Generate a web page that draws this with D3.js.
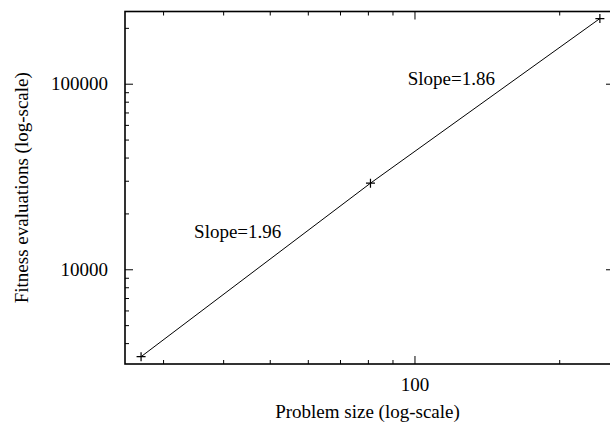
<!DOCTYPE html>
<html>
<head>
<meta charset="utf-8">
<script src="https://cdn.jsdelivr.net/npm/d3@7"></script>
<style>
  body { margin: 0; background: #fff; }
</style>
</head>
<body>
<div id="chart"></div>
<script>
// data
const problemSize = [27, 81, 243];
const evaluations = [3380, 29100, 224500];
const xTickLabels = [100];
const yTickLabels = [10000, 100000];
const slopeLabels = ["Slope=1.96", "Slope=1.86"];
const slopeLabelX = [34.8, 96.8];
const slopeLabelY = [14700, 98000];

const W = 610, H = 423;
const plot = { left: 125, right: 614, top: 11.5, bottom: 364 };
const serif = "'Liberation Serif'";
const fontSize = "19px";

const svg = d3.select("#chart").append("svg")
  .attr("width", W)
  .attr("height", H)
  .style("font-family", serif);

// scales (log-log)
const x = d3.scaleLog().domain([25, 260]).range([plot.left, plot.right]);
const y = d3.scaleLog().domain([3087, 245000]).range([plot.bottom, plot.top]);

// minor tick values
const xMinor = d3.range(30, 100, 10).concat([200]);
const yMinor = d3.range(4000, 10000, 1000).concat(d3.range(20000, 100000, 10000), [200000]);

function clean(g) {
  g.select(".domain").remove();
  g.attr("font-family", null).attr("font-size", null);
  g.selectAll("text").style("font-family", serif).style("font-size", fontSize).attr("fill", "#000");
}

// bottom + top ticks (inward)
svg.append("g").attr("transform", `translate(0,${plot.bottom})`)
  .call(d3.axisBottom(x).tickValues(xMinor).tickSize(-4).tickFormat(""))
  .call(clean);
svg.append("g").attr("transform", `translate(0,${plot.top})`)
  .call(d3.axisTop(x).tickValues(xMinor).tickSize(-4).tickFormat(""))
  .call(clean);

svg.append("g").attr("transform", `translate(0,${plot.bottom})`)
  .call(d3.axisBottom(x).tickValues(xTickLabels).tickSize(-8).tickPadding(14).tickFormat(d3.format("d")))
  .call(clean);
svg.append("g").attr("transform", `translate(0,${plot.top})`)
  .call(d3.axisTop(x).tickValues(xTickLabels).tickSize(-8).tickFormat(""))
  .call(clean);

// left + right ticks (inward)
svg.append("g").attr("transform", `translate(${plot.left},0)`)
  .call(d3.axisLeft(y).tickValues(yMinor).tickSize(-4).tickFormat(""))
  .call(clean);
svg.append("g").attr("transform", `translate(${plot.right},0)`)
  .call(d3.axisRight(y).tickValues(yMinor).tickSize(-4).tickFormat(""))
  .call(clean);

svg.append("g").attr("transform", `translate(${plot.left},0)`)
  .call(d3.axisLeft(y).tickValues(yTickLabels).tickSize(-8).tickPadding(17).tickFormat(d3.format("d")))
  .call(clean);
svg.append("g").attr("transform", `translate(${plot.right},0)`)
  .call(d3.axisRight(y).tickValues(yTickLabels).tickSize(-8).tickFormat(""))
  .call(clean);

svg.selectAll(".tick line").attr("stroke", "#000").attr("stroke-width", 1);

// frame
svg.append("rect")
  .attr("x", plot.left).attr("y", plot.top)
  .attr("width", plot.right - plot.left)
  .attr("height", plot.bottom - plot.top)
  .attr("fill", "none")
  .attr("stroke", "#000")
  .attr("stroke-width", 1.6);

// line through points
const pts = problemSize.map((d, i) => ({ n: d, e: evaluations[i] }));
svg.append("path")
  .datum(pts)
  .attr("fill", "none")
  .attr("stroke", "#000")
  .attr("stroke-width", 1)
  .attr("d", d3.line().x(d => x(d.n)).y(d => y(d.e)));

// "+" markers
svg.selectAll(".pt")
  .data(pts)
  .enter()
  .append("path")
    .attr("class", "pt")
    .attr("stroke", "#000")
    .attr("stroke-width", 1.2)
    .attr("d", d => {
      const cx = x(d.n), cy = y(d.e);
      return `M${cx - 4.5},${cy}h9M${cx},${cy - 4.5}v9`;
    });

// slope labels
svg.selectAll(".slope")
  .data(slopeLabels)
  .enter()
  .append("text")
    .attr("class", "slope")
    .attr("x", (d, i) => x(slopeLabelX[i]))
    .attr("y", (d, i) => y(slopeLabelY[i]))
    .style("font-family", serif)
    .style("font-size", fontSize)
    .text(d => d);

// axis titles
svg.append("text")
  .attr("x", (plot.left + plot.right) / 2 - 2)
  .attr("y", 418)
  .attr("text-anchor", "middle")
  .style("font-family", serif)
  .style("font-size", fontSize)
  .text("Problem size (log-scale)");

svg.append("text")
  .attr("transform", `translate(28,${(plot.top + plot.bottom) / 2}) rotate(-90)`)
  .attr("text-anchor", "middle")
  .style("font-family", serif)
  .style("font-size", fontSize)
  .text("Fitness evaluations (log-scale)");
</script>
</body>
</html>
